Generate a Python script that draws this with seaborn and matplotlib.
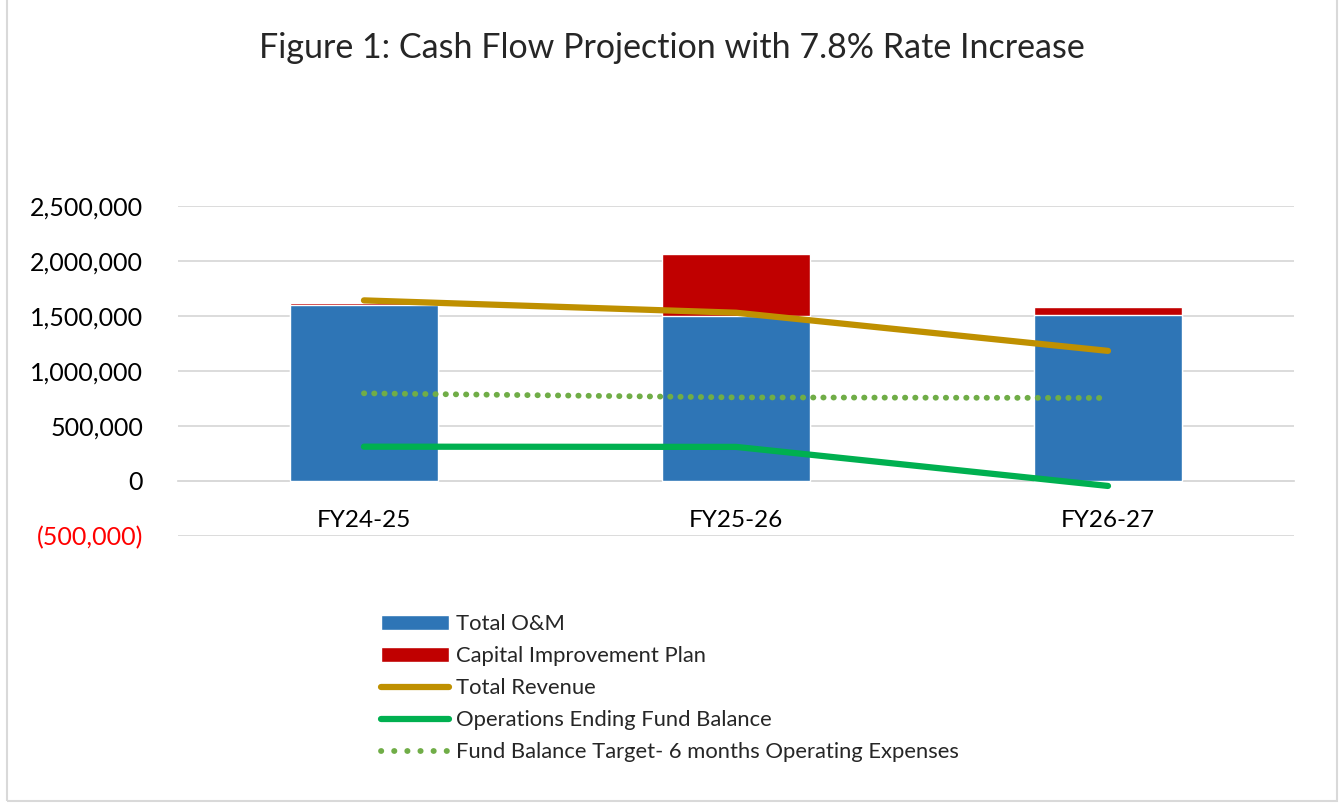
import matplotlib
matplotlib.use("Agg")
import matplotlib.pyplot as plt
import matplotlib.ticker as mticker
from matplotlib.lines import Line2D
from matplotlib.patches import Patch, Rectangle
import seaborn as sns
import pandas as pd

# data
years = ["FY24-25", "FY25-26", "FY26-27"]
total_om = [1600000, 1500000, 1505000]
capital_plan = [20000, 563000, 78000]
total_revenue = [1642000, 1530000, 1183000]
ending_balance = [312000, 310000, -45000]
balance_target = [797000, 760000, 755000]
y_ticks = [-500000, 0, 500000, 1000000, 1500000, 2000000, 2500000]

sns.set_style("white")
plt.rcParams["font.family"] = ["Lato", "DejaVu Sans"]

df = pd.DataFrame({
    "year": years,
    "om": total_om,
    "total": [a + b for a, b in zip(total_om, capital_plan)],
})
pos = list(range(len(years)))

fig = plt.figure(figsize=(13.44, 8.06), dpi=100)
ax = fig.add_axes([0.1324, 0.335, 0.8304, 0.4094])

# stacked bars: draw full stack in red, then O&M over it
sns.barplot(data=df, x="year", y="total", color="#C00000", saturation=1,
            width=0.4, ax=ax, zorder=2)
sns.barplot(data=df, x="year", y="om", color="#2E75B6", saturation=1,
            width=0.4, ax=ax, zorder=3)

dots = (0, (0.05, 1.7))
sns.lineplot(x=pos, y=balance_target, ax=ax, color="#70AD47", lw=4.2,
             linestyle=dots, dash_capstyle="round", zorder=4)
sns.lineplot(x=pos, y=total_revenue, ax=ax, color="#BF9000", lw=4.5,
             solid_capstyle="round", zorder=5)
sns.lineplot(x=pos, y=ending_balance, ax=ax, color="#00B050", lw=4.5,
             solid_capstyle="round", zorder=5)

ax.set_xlim(-0.5, 2.5)
ax.set_ylim(-500000, 2500000)
ax.yaxis.set_major_locator(mticker.FixedLocator(y_ticks))
ax.yaxis.set_major_formatter(mticker.FuncFormatter(
    lambda v, p: f"({abs(v):,.0f})" if v < 0 else f"{v:,.0f}"))
ax.grid(axis="y", color="#D9D9D9", lw=1.3, zorder=0)
ax.set_axisbelow(True)
for s in ["top", "right", "left"]:
    ax.spines[s].set_visible(False)
ax.spines["bottom"].set_position(("data", 0))
ax.spines["bottom"].set_color("#D9D9D9")
ax.spines["bottom"].set_linewidth(1.3)
ax.tick_params(axis="both", length=0, colors="black")
ax.tick_params(axis="y", pad=25, labelsize=18)
ax.tick_params(axis="x", pad=21, labelsize=17.5)
ax.set_xlabel("")
ax.set_ylabel("")
for lab in ax.get_yticklabels():
    if lab.get_text().startswith("("):
        lab.set_color("red")

fig.text(0.5, 0.94, "Figure 1: Cash Flow Projection with 7.8% Rate Increase",
         ha="center", va="center", fontsize=24.5)

handles = [
    Patch(facecolor="#2E75B6"),
    Patch(facecolor="#C00000"),
    Line2D([], [], color="#BF9000", lw=4.5, solid_capstyle="round"),
    Line2D([], [], color="#00B050", lw=4.5, solid_capstyle="round"),
    Line2D([], [], color="#70AD47", lw=4.2, linestyle=(0, (0.05, 2.2)),
           dash_capstyle="round"),
]
labels = ["Total O&M", "Capital Improvement Plan", "Total Revenue",
          "Operations Ending Fund Balance",
          "Fund Balance Target- 6 months Operating Expenses"]
fig.legend(handles, labels, loc="upper left", bbox_to_anchor=(0.277, 0.249),
           frameon=False, fontsize=15.8, handlelength=3.1, handleheight=0.7,
           labelspacing=0.55, handletextpad=0.3, borderaxespad=0)

fig.patches.append(Rectangle((0.005, 0.006), 0.99, 1.2, transform=fig.transFigure,
                             fill=False, edgecolor="#D9D9D9", lw=1.5))

fig.savefig("out.png", dpi=100)
